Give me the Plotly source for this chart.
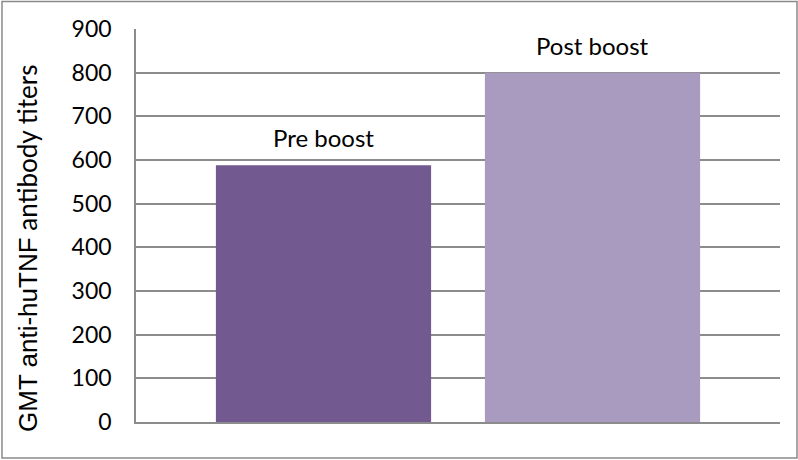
import plotly.graph_objects as go

# GMT anti-huTNF antibody titers before and after the boost
categories = ["Pre boost", "Post boost"]
titers = [588, 800]
bar_colors = ["#725990", "#A99BBF"]
y_ticks = [0, 100, 200, 300, 400, 500, 600, 700, 800, 900]
y_title_a = "GMT anti-huTNF"
y_title_b = " antibody titers"

W, H = 798, 460
M = dict(l=136, r=18, t=29, b=38)
pw = W - M["l"] - M["r"]
ph = H - M["t"] - M["b"]

label_font = "Lato, Open Sans, sans-serif"

fig = go.Figure(
    go.Bar(
        x=categories,
        y=titers,
        marker=dict(color=bar_colors, line=dict(width=0)),
        width=0.8,
        hoverinfo="x+y",
    )
)

# Category names shown above each bar
for cat, val in zip(categories, titers):
    fig.add_annotation(
        x=cat, y=val, xref="x", yref="y",
        text=cat, showarrow=False,
        xanchor="center", yanchor="bottom", yshift=11,
        font=dict(family=label_font, size=24, color="#000000"),
    )

# Vertical axis title, two-font run
fig.add_annotation(
    xref="paper", yref="paper",
    x=(27 - M["l"]) / pw, y=(422 - 249) / ph,
    xanchor="center", yanchor="middle",
    textangle=-90, showarrow=False,
    text=(f"<span style='font-family:Liberation Sans'>{y_title_a}</span>"
          f"<span style='font-family:Lato'>{y_title_b}</span>"),
    font=dict(family=label_font, size=26, color="#000000"),
)

grid = "#8c8c8c"
fig.update_layout(
    width=W,
    height=H,
    margin=M,
    paper_bgcolor="white",
    plot_bgcolor="white",
    showlegend=False,
    font=dict(family=label_font, size=23, color="#000000"),
    xaxis=dict(
        range=[-0.697, 1.697],
        showticklabels=False,
        ticks="",
        showgrid=False,
        showline=True,
        linecolor=grid,
        linewidth=1.5,
        zeroline=False,
    ),
    yaxis=dict(
        range=[0, 900],
        tickvals=y_ticks,
        ticktext=[str(v) for v in y_ticks],
        tickfont=dict(family=label_font, size=23),
        showgrid=True,
        gridcolor=grid,
        gridwidth=1.5,
        showline=True,
        linecolor=grid,
        linewidth=1.5,
        zeroline=False,
        ticks="",
        ticklabelstandoff=18,
    ),
)

# Thin frame around the whole chart area
fig.add_shape(
    type="rect",
    xref="paper", yref="paper",
    x0=(2 - M["l"]) / pw, x1=(W - 1 - M["l"]) / pw,
    y0=-(M["b"] - 2) / ph, y1=1 + (M["t"] - 1.5) / ph,
    line=dict(color="#8a8a8a", width=1.5),
    fillcolor="rgba(0,0,0,0)",
    layer="below",
)

fig.write_html("out.html")
